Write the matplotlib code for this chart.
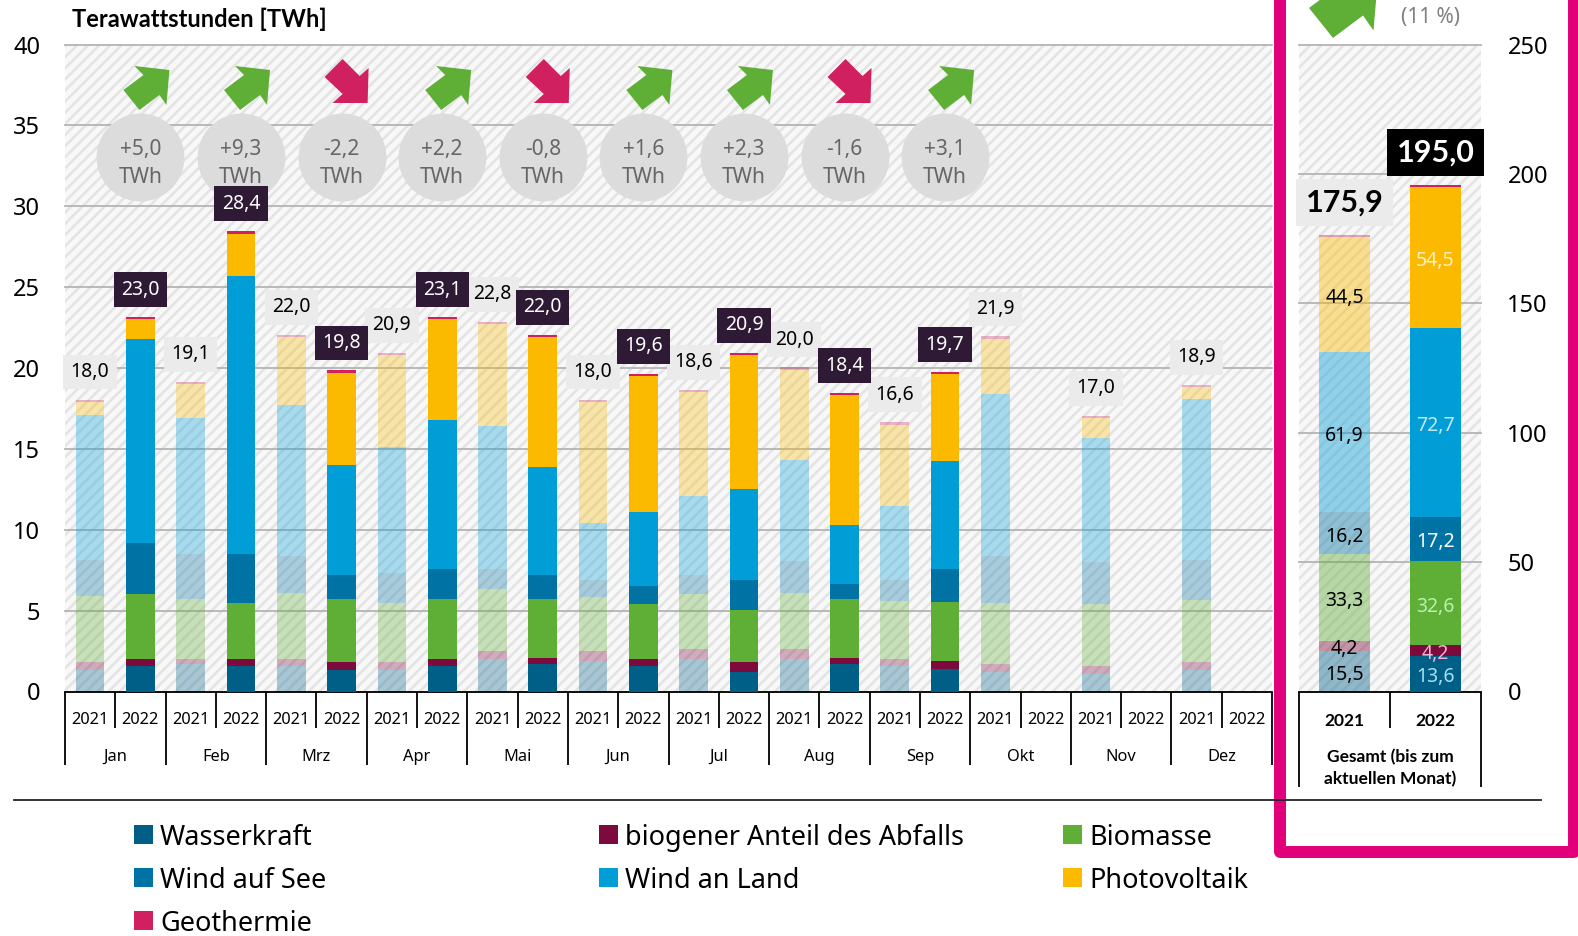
import matplotlib
matplotlib.use('Agg')
import matplotlib.pyplot as plt
import numpy as np
from matplotlib.patches import Polygon, Rectangle

plt.rcParams['font.family'] = ['Noto Sans', 'DejaVu Sans']
plt.rcParams['hatch.linewidth'] = 1.9

BOLD = ['Lato', 'DejaVu Sans']

months = ['Jan', 'Feb', 'Mrz', 'Apr', 'Mai', 'Jun', 'Jul', 'Aug', 'Sep', 'Okt', 'Nov', 'Dez']

# 2021, all twelve months
wasser_21 = [1.3, 1.7, 1.6, 1.3, 2.0, 1.9, 2.0, 2.0, 1.6, 1.2, 1.1, 1.3]
abfall_21 = [0.5, 0.3, 0.4, 0.5, 0.5, 0.6, 0.6, 0.6, 0.4, 0.5, 0.5, 0.5]
biomasse_21 = [4.1, 3.7, 4.1, 3.7, 3.85, 3.35, 3.4, 3.5, 3.6, 3.8, 3.8, 3.85]
see_21 = [2.2, 2.8, 2.25, 1.85, 1.25, 1.05, 1.2, 1.95, 1.3, 2.85, 2.6, 2.5]
land_21 = [9.0, 8.4, 9.35, 7.75, 8.8, 3.5, 4.9, 6.25, 4.55, 10.05, 7.7, 9.95]
pv_21 = [0.8, 2.1, 4.2, 5.7, 6.3, 7.5, 6.4, 5.6, 5.05, 3.4, 1.2, 0.7]
geo_21 = [0.15] * 12
total_21 = ['18,0', '19,1', '22,0', '20,9', '22,8', '18,0', '18,6', '20,0', '16,6', '21,9', '17,0', '18,9']

# 2022, January to September only
wasser_22 = [1.6, 1.6, 1.3, 1.6, 1.7, 1.6, 1.2, 1.7, 1.4]
abfall_22 = [0.4, 0.4, 0.5, 0.4, 0.4, 0.4, 0.6, 0.4, 0.5]
biomasse_22 = [4.0, 3.5, 3.9, 3.7, 3.6, 3.4, 3.25, 3.6, 3.65]
see_22 = [3.2, 3.0, 1.5, 1.9, 1.5, 1.1, 1.85, 0.95, 2.05]
land_22 = [12.6, 17.2, 6.8, 9.2, 6.7, 4.6, 5.6, 3.65, 6.65]
pv_22 = [1.2, 2.6, 5.7, 6.2, 8.0, 8.4, 8.3, 8.0, 5.35]
geo_22 = [0.15] * 9
total_22 = ['23,0', '28,4', '19,8', '23,1', '22,0', '19,6', '20,9', '18,4', '19,7']

deltas = ['+5,0', '+9,3', '-2,2', '+2,2', '-0,8', '+1,6', '+2,3', '-1,6', '+3,1']

# cumulated totals, same order as the stack
gesamt_21 = [15.5, 4.2, 33.3, 16.2, 61.9, 44.5, 0.8]
gesamt_22 = [13.6, 4.2, 32.6, 17.2, 72.7, 54.5, 0.8]
gesamt_text_22 = ['#a8e0f2', '#f2b4d2', '#b8f0b0', '#ffffff', '#c4e8f6', '#fff0c4']

names = ['Wasserkraft', 'biogener Anteil des Abfalls', 'Biomasse', 'Wind auf See', 'Wind an Land', 'Photovoltaik', 'Geothermie']
colors = ['#005f87', '#7d0a3c', '#5fae36', '#0072a3', '#009dd6', '#fbba00', '#d0205f']

stack_21 = [wasser_21, abfall_21, biomasse_21, see_21, land_21, pv_21, geo_21]
stack_22 = [wasser_22, abfall_22, biomasse_22, see_22, land_22, pv_22, geo_22]

W, H = 1578, 936
fig = plt.figure(figsize=(W / 100, H / 100), dpi=100)


def make_axes(x0, x1, ymin_px=691.5, ymax_px=44.5):
    a = fig.add_axes([x0 / W, 1 - ymin_px / H, (x1 - x0) / W, (ymin_px - ymax_px) / H])
    a.patch.set_facecolor('#f8f8f8')
    a.patch.set_edgecolor('#e4e4e4')
    a.patch.set_hatch('///')
    a.patch.set_linewidth(0)
    a.set_axisbelow(True)
    a.grid(axis='y', color='#b4b4b4', lw=1.3, clip_on=False)
    for s in ['top', 'left', 'right']:
        a.spines[s].set_visible(False)
    a.spines['bottom'].set_color('black')
    a.spines['bottom'].set_linewidth(1.3)
    a.set_xticks([])
    return a


def drop(a, xs, py):
    # bracket lines below the axis, py is the pixel row where they end
    frac = (691.5 - py) / 647.0
    a.vlines(xs, 0, frac, transform=a.get_xaxis_transform(), color='black', lw=1.3, clip_on=False)


def below(a, x, py, s, **kw):
    frac = (691.5 - py) / 647.0
    a.text(x, frac, s, transform=a.get_xaxis_transform(), ha='center', va='center', color='black', clip_on=False, **kw)


# monthly chart
ax = make_axes(65, 1272)
ax.set_xlim(0, 24)
ax.set_ylim(0, 40)
ax.set_yticks(range(0, 41, 5))
ax.tick_params(axis='y', length=0, pad=18, labelsize=17)

bar_w = 0.57
x21 = np.arange(12) * 2 + 0.5
x22 = np.arange(9) * 2 + 1.5

bottom = np.zeros(12)
for vals, c in zip(stack_21, colors):
    ax.bar(x21, vals, bar_w, bottom=bottom, color=c, alpha=0.32, lw=0, zorder=2)
    bottom += np.array(vals)
for x, top, t in zip(x21, bottom, total_21):
    ax.annotate(t, (x, top), xytext=(0, 19.8), textcoords='offset points', ha='center', va='center',
                fontsize=14, color='black', zorder=4,
                bbox=dict(boxstyle='square,pad=0.38', fc='#ebebeb', ec='none'))

bottom = np.zeros(9)
for vals, c in zip(stack_22, colors):
    ax.bar(x22, vals, bar_w, bottom=bottom, color=c, lw=0, zorder=3)
    bottom += np.array(vals)
for x, top, t in zip(x22, bottom, total_22):
    ax.annotate(t, (x, top), xytext=(0, 19.8), textcoords='offset points', ha='center', va='center',
                fontsize=14, color='white', zorder=6,
                bbox=dict(boxstyle='square,pad=0.38', fc='#2f1a35', ec='none'))

# delta circles
ax.scatter(x22, [33.05] * 9, s=4000, color='#dcdcdc', lw=0, zorder=3.5, clip_on=False)
for x, d in zip(x22, deltas):
    ax.text(x, 33.5, d, ha='center', va='center', fontsize=15, color='#666666', zorder=3.6)
    ax.text(x, 31.8, 'TWh', ha='center', va='center', fontsize=15, color='#666666', zorder=3.6)

drop(ax, np.arange(0, 25, 2), 765)
drop(ax, np.arange(1, 24, 2), 728)
for x in x21:
    below(ax, x, 720.5, '2021', fontsize=11.8)
for x in x22:
    below(ax, x, 720.5, '2022', fontsize=11.8)
for x in np.arange(19.5, 24, 2):
    below(ax, x, 720.5, '2022', fontsize=11.8)
for i, m in enumerate(months):
    below(ax, 2 * i + 1, 757, m, fontsize=11.8)

# cumulated chart
ax2 = make_axes(1299, 1481)
ax2.set_xlim(0, 2)
ax2.set_ylim(0, 250)
ax2.set_yticks(range(0, 251, 50))
ax2.yaxis.tick_right()
ax2.tick_params(axis='y', length=0, pad=19, labelsize=17)

b = 0
for v, c in zip(gesamt_21, colors):
    ax2.bar(0.5, v, bar_w, bottom=b, color=c, alpha=0.42, lw=0, zorder=2)
    if c != colors[-1]:
        ax2.annotate(f'{v:.1f}'.replace('.', ','), (0.5, b + v / 2), xytext=(0, -2.5), textcoords='offset points',
                     ha='center', va='center', fontsize=14, color='black', zorder=4)
    b += v
ax2.annotate('175,9', (0.5, b), xytext=(0, 23.5), textcoords='offset points', ha='center', va='center',
             fontsize=22, fontweight='bold', family=BOLD, color='black', zorder=5,
             bbox=dict(boxstyle='square,pad=0.32', fc='#ebebeb', ec='none'))

b = 0
for i, (v, c) in enumerate(zip(gesamt_22, colors)):
    ax2.bar(1.5, v, bar_w, bottom=b, color=c, lw=0, zorder=3)
    if i < 6:
        ax2.annotate(f'{v:.1f}'.replace('.', ','), (1.5, b + v / 2), xytext=(0, -2.5), textcoords='offset points',
                     ha='center', va='center', fontsize=14, color=gesamt_text_22[i], zorder=4)
    b += v
ax2.annotate('195,0', (1.5, b), xytext=(0, 23.5), textcoords='offset points', ha='center', va='center',
             fontsize=22, fontweight='bold', family=BOLD, color='white', zorder=5,
             bbox=dict(boxstyle='square,pad=0.32', fc='black', ec='none'))

drop(ax2, [0, 2], 787)
drop(ax2, [1], 728)
below(ax2, 0.5, 720.5, '2021', fontsize=12.5, fontweight='bold', family=BOLD)
below(ax2, 1.5, 720.5, '2022', fontsize=12.5, fontweight='bold', family=BOLD)
below(ax2, 1, 757, 'Gesamt (bis zum', fontsize=12.5, fontweight='bold', family=BOLD)
below(ax2, 1, 779, 'aktuellen Monat)', fontsize=12.5, fontweight='bold', family=BOLD)

# everything outside the axes, in pixel coordinates
over = fig.add_axes([0, 0, 1, 1], zorder=5)
over.set_xlim(0, W)
over.set_ylim(H, 0)
over.axis('off')

over.text(72, 19, 'Terawattstunden [TWh]', fontsize=17, fontweight='bold', family=BOLD, ha='left', va='center')

up_arrow = np.array([(-5, 66), (30, 70), (27, 105), (20, 95), (0, 110), (-16, 90), (4, 75)], dtype=float)
down_arrow = np.array([(2, 59), (19, 76), (28, 68), (27, 103), (-8, 103), (2, 94), (-16, 77)], dtype=float)
for x, d in zip(x22, deltas):
    cx = 65 + x * (1272 - 65) / 24
    shape = up_arrow if d[0] == '+' else down_arrow
    col = '#5fae36' if d[0] == '+' else '#d0205f'
    over.add_patch(Polygon(shape + [cx - 1, 0], closed=True, fc=col, ec='none'))

big = (up_arrow - [0, 110]) * 1.5 + [1333, 38]
over.add_patch(Polygon(big, closed=True, fc='#5fae36', ec='none'))
over.text(1431, 18, '(11 %)', fontsize=15, color='#808080', ha='center', va='center')

# pink frame
over.plot([1280.5, 1280.5, 1574, 1574], [-10, 851.5, 851.5, -10], color='#e2007a', lw=8.6,
          solid_joinstyle='round', clip_on=False)
over.plot([14, 1541], [799.5, 799.5], color='#222222', lw=1.3)

# legend, laid out in rows like the original
col_x = [134, 599, 1063]
row_y = [825, 868, 911]
for i, (n, c) in enumerate(zip(names, colors)):
    px, py = col_x[i % 3], row_y[i // 3]
    over.add_patch(Rectangle((px, py), 19, 19, fc=c, ec='none'))
    over.text(px + 26, py + 13, n, fontsize=19.5, ha='left', va='center', color='black')

fig.savefig('out.png', dpi=100)
